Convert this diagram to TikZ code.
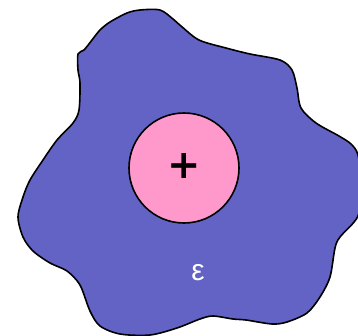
\documentclass[tikz,border=0pt]{standalone}
\usepackage{fontspec}
\newfontfamily\plusfont{DejaVu Sans}
\newfontfamily\epsfont{Liberation Sans}
\definecolor{blobblue}{RGB}{99,99,198}
\definecolor{corepink}{RGB}{255,153,204}
\tikzset{
  blob/.style={fill=blobblue, draw=black, line width=1.6bp, line join=round},
  core/.style={circle, fill=corepink, draw=black, line width=1.6bp, minimum size=110bp, inner sep=0pt},
  plusmark/.style={font=\plusfont\bfseries\fontsize{40}{40}\selectfont, text=black, inner sep=0pt},
  epslabel/.style={font=\epsfont\fontsize{30}{30}\selectfont, text=white, inner sep=0pt}
}
\begin{document}
\begin{tikzpicture}[x=1bp, y=-1bp]
\useasboundingbox (0,0) rectangle (358,336);
\clip (0,0) rectangle (358,336);
\draw[blob] plot[smooth cycle, tension=0.5] coordinates {
(140,10) (160,10) (173,19) (181,26) (199,40) (226,48) (250,54) (280,60) (292,70)
(297,88) (301,108) (316,123) (339,136) (351,144) (358,155) (362,185) (358,216)
(340,237) (335,248) (330,277) (320,297) (307,313) (287,322) (272,324) (246,320)
(233,319) (213,316) (200,319) (177,328) (150,335) (120,334) (100,326) (90,311)
(80,285) (67,271) (50,263) (33,251) (23,237) (18,217) (23,197) (30,180) (43,160)
(57,140) (73,123) (79,110) (80,83) (78,70) (78,54) (84,50) (92,40) (100,30)
(110,22) (127,13)};
\node[core] (nucleus) at (184,168) {};
\node[plusmark] (plus) at (184,166) {+};
\node[epslabel] (eps) at (198,273) {ε};
\end{tikzpicture}
\end{document}
